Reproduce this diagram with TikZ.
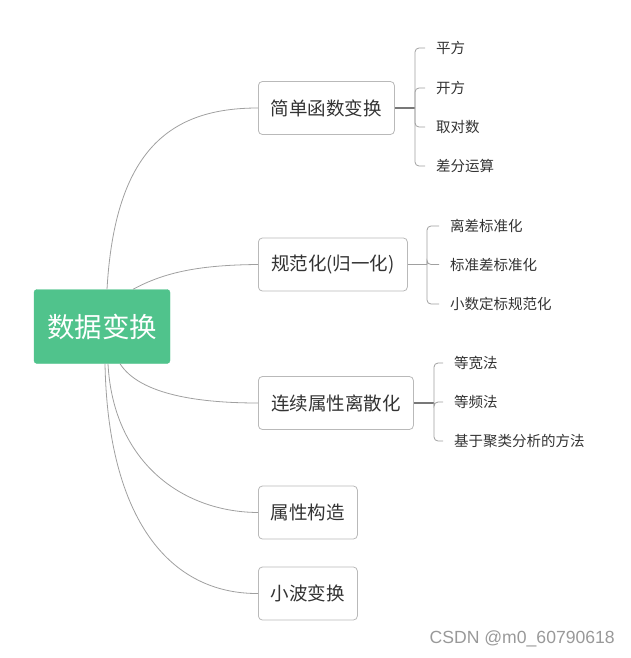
\documentclass[tikz,border=0pt]{standalone}
\usepackage{fontspec}
\setmainfont{Noto Sans CJK SC}
\newfontfamily\wmfont{Liberation Sans}
\definecolor{rootgreen}{RGB}{80,195,140}
\definecolor{txt}{RGB}{51,51,51}
\definecolor{boxline}{RGB}{185,185,185}
\definecolor{curveline}{RGB}{160,160,160}
\definecolor{stemline}{RGB}{120,120,120}
\tikzset{
  rootbox/.style={draw=rootgreen, fill=rootgreen, rounded corners=3pt, text=white, font=\fontsize{27.5}{27.5}\selectfont, minimum width=136pt, minimum height=74pt, inner sep=0pt},
  branchbox/.style={draw=boxline, line width=0.8pt, fill=white, rounded corners=4pt, text=txt, font=\fontsize{18.5}{18.5}\selectfont, minimum height=53pt, inner sep=0pt, anchor=west},
  leaf/.style={anchor=west, text=txt, font=\fontsize{14.5}{14.5}\selectfont, inner xsep=11pt, inner ysep=0pt},
  curve/.style={draw=curveline, line width=0.8pt},
  stem/.style={draw=stemline, line width=1.4pt},
  bracket/.style={draw=curveline, line width=0.8pt, rounded corners=4pt},
}
\begin{document}
\begin{tikzpicture}[x=1pt,y=-1pt]
\useasboundingbox (0,0) rectangle (631,658);
% root
\node[rootbox] (root) at (102,326.5) {数据变换};
% branches
\node[branchbox, minimum width=136pt] (b1) at (258,108) {简单函数变换};
\node[branchbox, minimum width=149pt] (b2) at (258,264.5) {规范化(归一化)};
\node[branchbox, minimum width=155pt] (b3) at (258,403) {连续属性离散化};
\node[branchbox, minimum width=99pt] (b4) at (258,512.5) {属性构造};
\node[branchbox, minimum width=99pt] (b5) at (258,593.5) {小波变换};
% curves from root
\draw[curve] ([xshift=5pt]root.north) .. controls (115,150) and (170,108) .. (b1.west);
\draw[curve] ([xshift=31pt]root.north) .. controls (165,272) and (200,265) .. (b2.west);
\draw[curve] ([xshift=18pt]root.south) .. controls (140,395) and (200,403) .. (b3.west);
\draw[curve] ([xshift=6pt]root.south) .. controls (113,460) and (180,512) .. (b4.west);
\draw[curve] ([xshift=3pt]root.south) .. controls (108,520) and (170,594) .. (b5.west);
% group 1
\coordinate (j1) at (415,108);
\node[leaf] (l11) at (425,48) {平方};
\node[leaf] (l12) at (425,88) {开方};
\node[leaf] (l13) at (425,127) {取对数};
\node[leaf] (l14) at (425,166) {差分运算};
\draw[stem] (b1.east) -- (j1);
\foreach \l in {l11,l12,l13,l14} \draw[bracket] (j1) |- (\l.west);
% group 2
\coordinate (j2) at (427,264.5);
\node[leaf] (l21) at (439,226) {离差标准化};
\node[leaf] (l22) at (439,264.5) {标准差标准化};
\node[leaf] (l23) at (439,304) {小数定标规范化};
\draw[bracket] (b2.east) -- (j2);
\foreach \l in {l21,l22,l23} \draw[bracket] (j2) |- (\l.west);
% group 3
\coordinate (j3) at (434,403);
\node[leaf] (l31) at (443,363) {等宽法};
\node[leaf] (l32) at (443,402) {等频法};
\node[leaf] (l33) at (443,441) {基于聚类分析的方法};
\draw[stem] (b3.east) -- (j3);
\foreach \l in {l31,l32,l33} \draw[bracket] (j3) |- (\l.west);
% watermark
\node[anchor=east, text=black!40, font=\wmfont\fontsize{17.6}{17.6}\selectfont, inner sep=0pt] (wm) at (615,639) {CSDN @m0\_60790618};
\end{tikzpicture}
\end{document}
